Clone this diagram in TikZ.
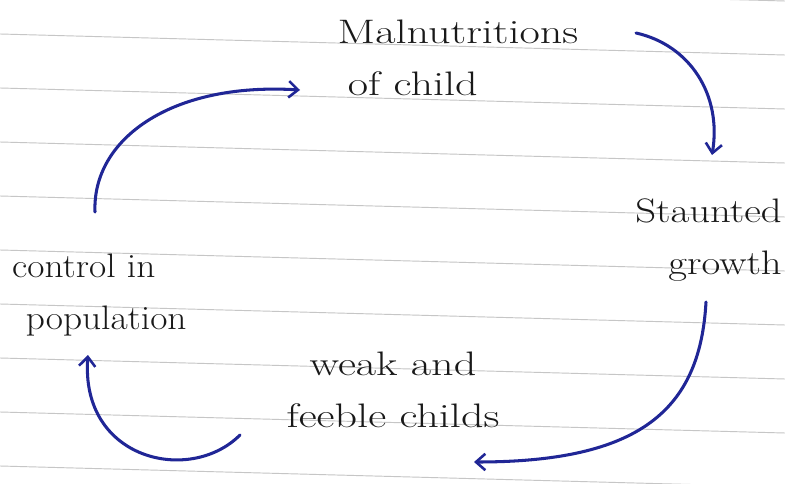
\documentclass[tikz,border=0pt]{standalone}
\usetikzlibrary{arrows.meta}
\definecolor{ink}{RGB}{32,38,150}
\newcommand{\hw}[2][1.3]{\scalebox{#1}[1]{#2}}
\begin{document}
\begin{tikzpicture}[x=0.03cm,y=-0.03cm,
  lbl/.style={font=\fontsize{29}{44}\selectfont, text=black!90, inner sep=0pt},
  cyc/.style={draw=ink, line width=2.6pt, line cap=round,
    -{Straight Barb[length=8pt,width=14pt,line width=2.2pt]}},
  ruled/.style={draw=gray!45, line width=0.8pt}]
\path[fill=white] (0,0) rectangle (785,484);
\useasboundingbox (0,0) rectangle (785,484);
\foreach \y in {-20,34,88,142,196,250,304,358,412,466}
  \draw[ruled] (0,\y) -- (785,\y+21);
\node[lbl, align=left] (mal) at (458,58) {\hw{Malnutritions}\\\hspace{0.3em}\hw{of child}};
\node[lbl, align=right, anchor=east] (stu) at (782,240) {\hw[1.2]{Staunted}\\\hw[1.2]{growth}};
\node[lbl, align=left, anchor=west] (con) at (12,295) {\hw[1.1]{control in}\\\hspace{0.4em}\hw[1.1]{population}};
\node[lbl, align=center] (wea) at (393,390) {\hw{weak and}\\\hw{feeble childs}};
\coordinate (a1s) at (636,33);  \coordinate (a1e) at (712,155);
\coordinate (a2s) at (706,302); \coordinate (a2e) at (474,462);
\coordinate (a3s) at (240,435); \coordinate (a3e) at (88,355);
\coordinate (a4s) at (95,212);  \coordinate (a4e) at (300,90);
\draw[cyc] (a1s) .. controls (690,45) and (722,95) .. (a1e);
\draw[cyc] (a2s) .. controls (700,410) and (640,462) .. (a2e);
\draw[cyc] (a3s) .. controls (190,485) and (80,460) .. (a3e);
\draw[cyc] (a4s) .. controls (92,140) and (170,82) .. (a4e);
\end{tikzpicture}
\end{document}
